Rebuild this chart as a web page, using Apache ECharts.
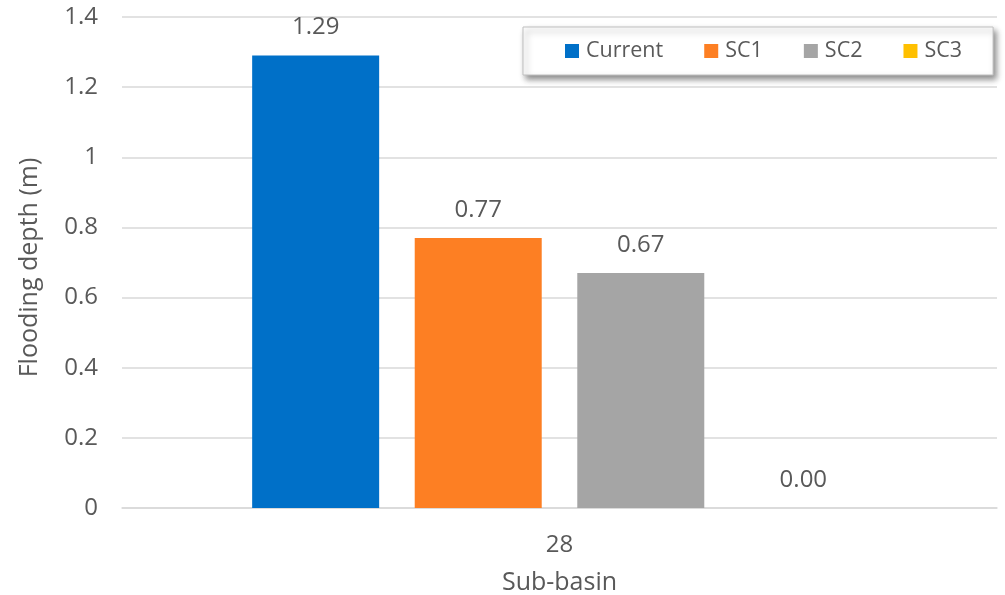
<!DOCTYPE html>
<html><head><meta charset="utf-8">
<script src="https://cdn.jsdelivr.net/npm/echarts@6/dist/echarts.min.js"></script>
<style>html,body{margin:0;padding:0;background:#fff}#c{width:1005px;height:595px}</style>
</head><body><div id="c"></div>
<script>
const categories = ['28'];
const seriesNames = ['Current', 'SC1', 'SC2', 'SC3'];
const current = [1.29];
const sc1 = [0.77];
const sc2 = [0.67];
const sc3 = [0.00];
const yTicks = [0, 0.2, 0.4, 0.6, 0.8, 1, 1.2, 1.4];
const colors = ['#0070C8', '#FD7F23', '#A5A5A5', '#FFC000'];
const values = [current, sc1, sc2, sc3];
const FONT = '"Open Sans", "Noto Sans", sans-serif';
const TXT = '#595959';

const chart = echarts.init(document.getElementById('c'));
chart.setOption({
  animation: false,
  textStyle: { fontFamily: FONT },
  grid: { left: 122, right: 8, top: 17, bottom: 87, containLabel: false, outerBoundsMode: 'none' },
  legend: {
    data: seriesNames,
    top: 27, left: 523,
    itemWidth: 14, itemHeight: 14, itemGap: 41,
    icon: 'rect',
    padding: [13, 31, 13, 42],
    backgroundColor: '#fff',
    borderColor: '#BFBFBF', borderWidth: 1,
    shadowColor: 'rgba(0,0,0,0.45)', shadowBlur: 6, shadowOffsetX: 3, shadowOffsetY: 4,
    textStyle: { color: TXT, fontSize: 21.5, fontFamily: FONT, padding: [0, 0, 0, 2] }
  },
  xAxis: {
    type: 'category', data: categories,
    name: 'Sub-basin', nameLocation: 'middle', nameGap: 62,
    nameTextStyle: { color: TXT, fontSize: 25, fontFamily: FONT },
    axisLine: { lineStyle: { color: '#D9D9D9', width: 1.5 } },
    axisTick: { show: false },
    axisLabel: { color: TXT, fontSize: 24, margin: 25, fontFamily: FONT }
  },
  yAxis: {
    type: 'value', min: 0, max: 1.4, interval: 0.2,
    name: 'Flooding depth (m)', nameLocation: 'middle', nameGap: 80,
    nameTextStyle: { color: TXT, fontSize: 25, fontFamily: FONT, padding: [0, 10, 0, 0] },
    axisLine: { show: false }, axisTick: { show: false },
    splitLine: { lineStyle: { color: '#D9D9D9', width: 1.5 } },
    axisLabel: {
      color: TXT, fontSize: 24, margin: 24, fontFamily: FONT,
      formatter: v => { const t = yTicks.find(x => Math.abs(x - v) < 1e-9); return t === undefined ? '' : String(t); }
    }
  },
  series: seriesNames.map((n, i) => ({
    name: n, type: 'bar', data: values[i],
    barWidth: 127, barGap: '28%',
    itemStyle: { color: colors[i] },
    label: {
      show: true, position: 'top', distance: 16,
      color: TXT, fontSize: 24, fontFamily: FONT,
      formatter: p => p.value.toFixed(2)
    }
  }))
});
</script></body></html>
